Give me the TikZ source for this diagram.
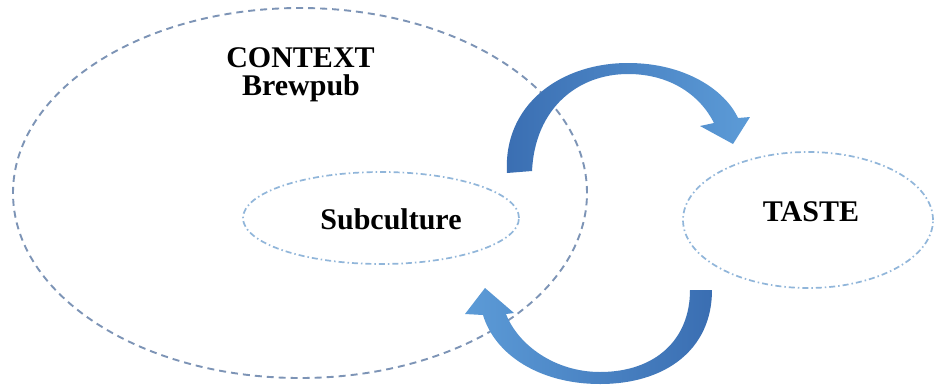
\documentclass[tikz,border=0pt]{standalone}
\usepackage{fontspec}
\setmainfont{Liberation Serif}
\usetikzlibrary{shapes.geometric}
\definecolor{bigline}{RGB}{125,148,182}
\definecolor{smallline}{RGB}{145,182,218}
\definecolor{arrdark}{RGB}{58,110,178}
\definecolor{arrlight}{RGB}{92,155,215}
\tikzset{
  bigell/.style={draw=bigline, line width=1.9pt, dash pattern=on 7pt off 5pt, ellipse, inner sep=0pt},
  smallell/.style={draw=smallline, line width=1.7pt, dash pattern=on 6pt off 3pt on 1.5pt off 3pt, ellipse, inner sep=0pt},
  lbl/.style={font=\fontsize{30}{33}\selectfont\bfseries, inner sep=0pt, align=center},
  blockarrow/.style={draw=none}
}
\begin{document}
\begin{tikzpicture}[x=1pt,y=-1pt]
\useasboundingbox (0,0) rectangle (934,386);
\fill[white] (0,0) rectangle (934,386);
% ellipses
\node[bigell, minimum width=574pt, minimum height=370pt] (context) at (300,193) {};
\node[smallell, minimum width=276pt, minimum height=92pt] (sub) at (381,218) {};
\node[smallell, minimum width=250pt, minimum height=136pt] (taste) at (808,220) {};
% labels
\node[lbl, anchor=base] (ctxt) at (300.5,67) {CONTEXT};
\node[lbl, anchor=base] (brew) at (301,95) {Brewpub};
\node[lbl] (subt) at (391,219) {Subculture};
\node[lbl] (tastet) at (811,212) {TASTE};
% upper curved arrow
\shade[blockarrow, left color=arrdark, right color=arrlight]
  (507,173) .. controls (503,105) and (560,63) .. (628,63)
  .. controls (685,63) and (725,90) .. (738,118)
  -- (750,117) -- (733,144) -- (700,126) -- (714,123)
  .. controls (700,95) and (670,74) .. (628,74)
  .. controls (578,74) and (535,108) .. (532,171) -- cycle;
% lower curved arrow
\shade[blockarrow, left color=arrlight, right color=arrdark]
  (712,290) .. controls (712,350) and (665,384) .. (600,384)
  .. controls (540,384) and (495,355) .. (483,315)
  -- (465,314) -- (485,288) -- (514,313) -- (506,314)
  .. controls (518,345) and (555,372) .. (600,372)
  .. controls (655,372) and (690,340) .. (690,290) -- cycle;
\end{tikzpicture}
\end{document}
